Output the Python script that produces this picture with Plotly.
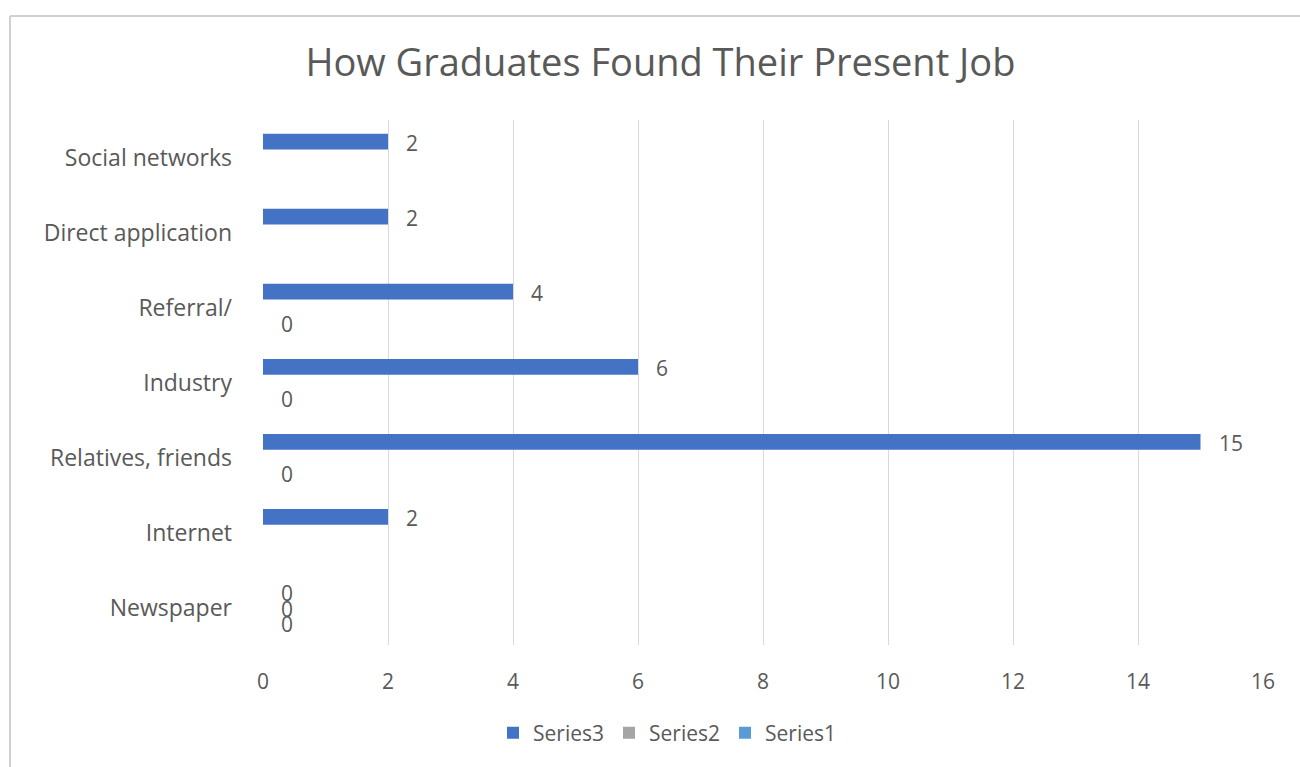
import plotly.graph_objects as go

categories = ["Newspaper", "Internet", "Relatives, friends", "Industry",
              "Referral/", "Direct application", "Social networks"]
series1 = [0, None, 0, 0, 0, None, None]
series2 = [0, None, None, None, None, None, None]
series3 = [0, 2, 15, 6, 4, 2, 2]
x_ticks = [0, 2, 4, 6, 8, 10, 12, 14, 16]

FONT = "Open Sans"
GREY_TEXT = "#595959"
GRID = "#d9d9d9"

series = [("Series1", series1, "#5B9BD5", -15.6),
          ("Series2", series2, "#A5A5A5", 0.0),
          ("Series3", series3, "#4472C4", 15.6)]

fig = go.Figure()
annotations = []
for rank, (name, vals, color, yshift) in enumerate(series):
    fig.add_trace(go.Bar(
        y=categories, x=vals, name=name, orientation="h",
        marker=dict(color=color, line=dict(width=0)),
        legendrank=10 - rank,
    ))
    for cat, v in zip(categories, vals):
        if v is None:
            continue
        annotations.append(dict(
            x=v, y=cat, xref="x", yref="y", text=str(v), showarrow=False,
            xanchor="left", yanchor="middle", xshift=16, yshift=yshift - 1,
            font=dict(family=FONT, size=21, color=GREY_TEXT),
        ))

# Outer chart frame (top and left edges)
shapes = [
    dict(type="line", xref="paper", yref="paper", x0=-0.253, x1=1.04,
         y0=1.198, y1=1.198, line=dict(color="#d0d0d0", width=2)),
    dict(type="line", xref="paper", yref="paper", x0=-0.253, x1=-0.253,
         y0=1.198, y1=-0.25, line=dict(color="#d0d0d0", width=2)),
]

fig.update_layout(
    width=1300, height=767,
    barmode="group", bargap=0.37, bargroupgap=0,
    paper_bgcolor="white", plot_bgcolor="white",
    margin=dict(l=263, r=37, t=120, b=122),
    title=dict(text="How Graduates Found Their Present Job",
               x=0.508, xref="container", xanchor="center",
               y=1 - 63 / 767, yref="container", yanchor="middle",
               font=dict(family=FONT, size=38, color=GREY_TEXT)),
    xaxis=dict(range=[0, 16], tickvals=x_ticks, showgrid=True,
               gridcolor=GRID, gridwidth=1, zeroline=False, showline=False,
               ticks="", ticklabelstandoff=22,
               tickfont=dict(family=FONT, size=21, color=GREY_TEXT)),
    yaxis=dict(type="category", categoryorder="array", categoryarray=categories,
               showgrid=False, zeroline=False, showline=False, ticks="",
               ticklabelstandoff=30,
               tickfont=dict(family=FONT, size=23, color=GREY_TEXT)),
    legend=dict(orientation="h", x=0.404, xanchor="center", y=-0.168,
                yanchor="middle", font=dict(family=FONT, size=21, color=GREY_TEXT),
                itemwidth=30, traceorder="normal"),
    annotations=annotations,
    shapes=shapes,
    showlegend=True,
)

fig.write_html("out.html")
